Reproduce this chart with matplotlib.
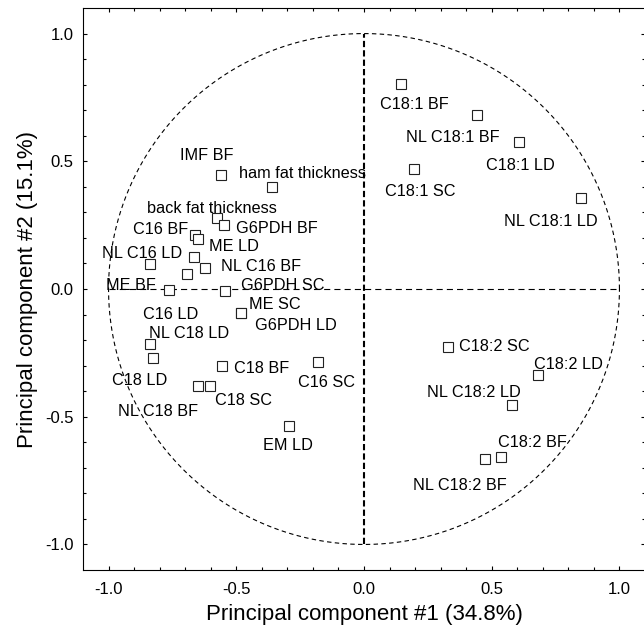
import numpy as np
import matplotlib
matplotlib.use("Agg")
import matplotlib.pyplot as plt

plt.rcParams['font.family'] = ['Liberation Sans', 'DejaVu Sans']

# loadings on PC1 / PC2
names = ["IMF BF", "ham fat thickness", "back fat thickness", "G6PDH BF",
         "C16 BF", "ME LD", "", "NL C16 LD", "NL C16 BF", "C16 LD",
         "ME BF", "G6PDH SC", "ME SC", "G6PDH LD", "NL C18 LD", "C18 LD",
         "C18 BF", "NL C18 BF", "C18 SC", "C16 SC", "EM LD",
         "C18:1 BF", "NL C18:1 BF", "C18:1 LD", "C18:1 SC", "NL C18:1 LD",
         "C18:2 SC", "C18:2 LD", "NL C18:2 LD", "C18:2 BF", "NL C18:2 BF"]
pc1 = [-0.559, -0.359, -0.575, -0.549, -0.663, -0.649, -0.667, -0.837,
       -0.622, -0.692, -0.765, -0.546, -0.481, -0.481, -0.839, -0.827,
       -0.555, -0.648, -0.602, -0.181, -0.292,
       0.143, 0.441, 0.606, 0.194, 0.850,
       0.327, 0.682, 0.578, 0.537, 0.472]
pc2 = [0.447, 0.398, 0.279, 0.252, 0.213, 0.195, 0.127, 0.096,
       0.083, 0.057, -0.002, -0.009, -0.095, -0.095, -0.214, -0.269,
       -0.303, -0.379, -0.379, -0.284, -0.538,
       0.803, 0.683, 0.577, 0.469, 0.355,
       -0.228, -0.336, -0.453, -0.658, -0.666]

# label placement (pixels from marker: left/right edge, cap centre; y down)
lab_dx = [-41, -33.7, -70.4, 12.4, -6.7, 10.6, 0, -48.4, 16, -44.4,
          -12.3, 16.7, 8.3, 14.3, -0.7, -40.6, 11.3, -80.7, 4.3, -19.3, -26,
          -20.3, -70.6, -32.6, -28.3, -76.7, 11, -4.7, -85, -2.7, -71.7]
lab_dy = [-20.3, -15, -10.6, 2.7, -6.7, 6.3, 0, -12.3, -2.3, 38.3,
          -5, -6.7, -10.4, 10.6, -11.6, 21, 0.7, 24, 13.4, 20, 17.3,
          19.4, 21.7, 22.3, 20.6, 21.6, -1.7, -11.6, -13.3, -16, 24.6]
right_aligned = {"C16 BF", "ME BF"}

fig = plt.figure(figsize=(6.44, 6.38), dpi=100)
ax = fig.add_axes([83/644, 68/638, 562/644, 562/638])

t = np.linspace(0, 2*np.pi, 400)
ax.plot(np.cos(t), np.sin(t), color='black', lw=0.8, dashes=(4, 3))
ax.plot([0, 0], [-1, 1], color='black', lw=1.5, dashes=(3, 1.5))
ax.plot([-1, 1], [0, 0], color='black', lw=0.8, dashes=(5.5, 3.7))

ax.plot(pc1, pc2, 's', ms=7.5, mfc='white', mec='#222222', mew=0.8)

for nm, x, y, dx, dy in zip(names, pc1, pc2, lab_dx, lab_dy):
    if not nm:
        continue
    ax.annotate(nm, (x, y), xytext=(dx, -(dy + 5.8)), textcoords='offset pixels',
                ha='right' if nm in right_aligned else 'left', va='baseline',
                fontsize=11.7)

ax.set_xlim(-1.1, 1.1)
ax.set_ylim(-1.1, 1.1)
ax.set_xticks([-1.0, -0.5, 0.0, 0.5, 1.0])
ax.set_yticks([-1.0, -0.5, 0.0, 0.5, 1.0])
ax.set_xticks(np.arange(-1.0, 1.05, 0.1), minor=True)
ax.set_yticks(np.arange(-1.0, 1.05, 0.1), minor=True)
ax.set_xticklabels(["-1.0", "-0.5", "0.0", "0.5", "1.0"])
ax.set_yticklabels(["-1.0", "-0.5", "0.0", "0.5", "1.0"])
ax.tick_params(which='both', direction='in', top=True, right=True, width=0.8,
               labelsize=12)
ax.tick_params(which='major', length=3, pad=9)
ax.tick_params(axis='y', which='major', pad=7)
ax.tick_params(which='minor', length=2.2)
for s in ax.spines.values():
    s.set_linewidth(0.8)

ax.set_xlabel("Principal component #1 (34.8%)", fontsize=16, va='center')
ax.xaxis.set_label_coords(0.5, -0.08)
ax.set_ylabel("Principal component #2 (15.1%)", fontsize=16, va='center')
ax.yaxis.set_label_coords(-0.098, 0.5)

fig.savefig("out.png", dpi=100)
